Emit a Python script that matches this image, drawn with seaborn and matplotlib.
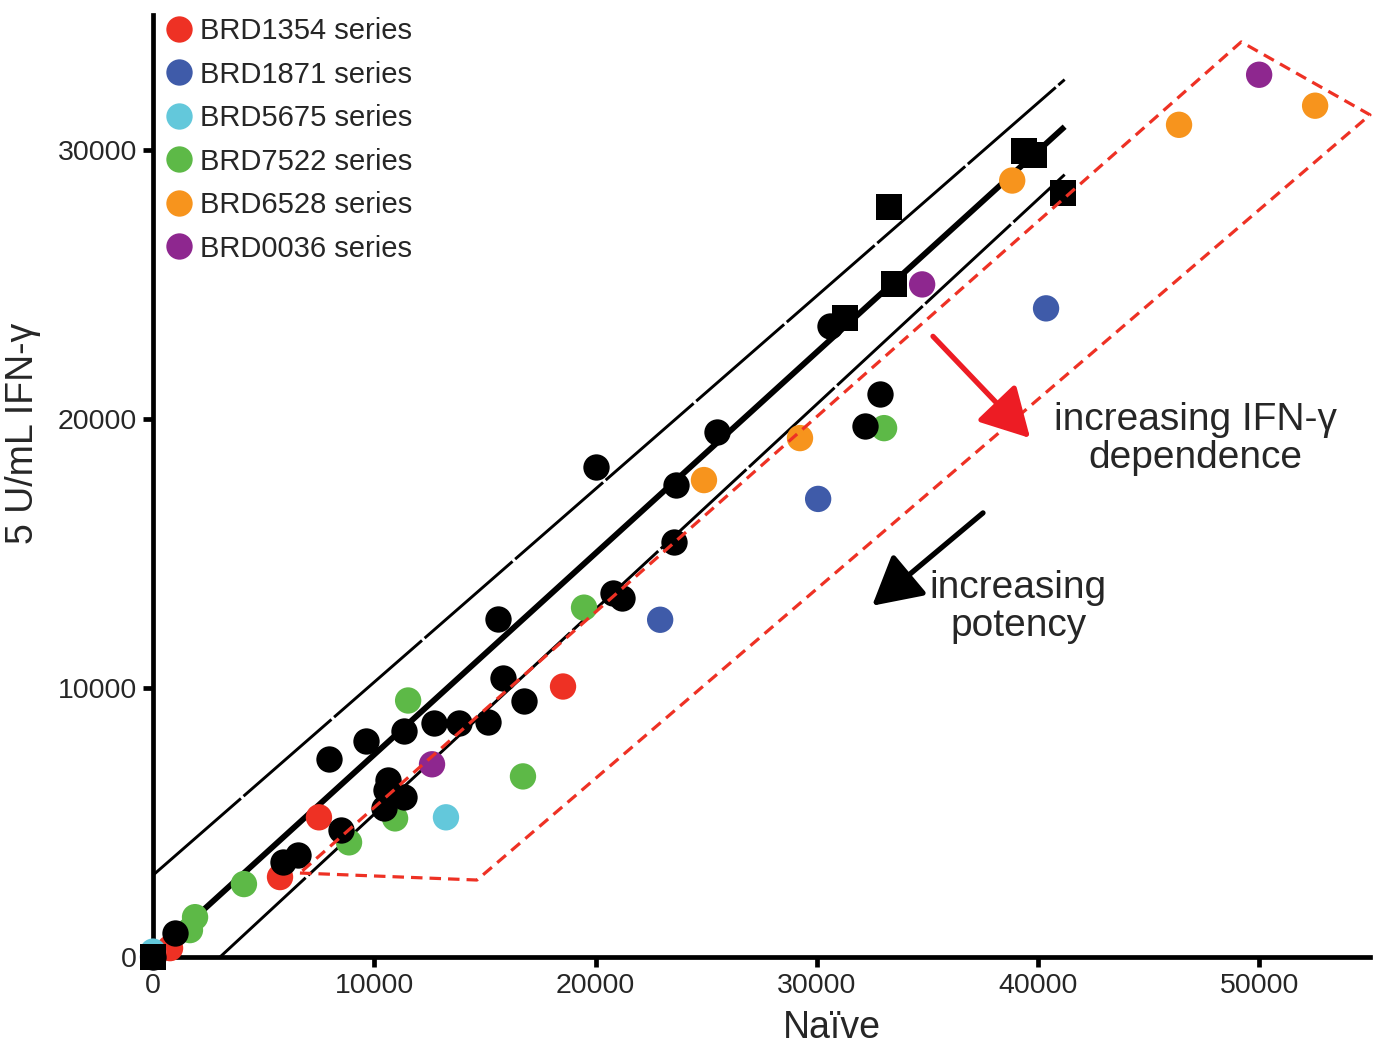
import numpy as np
import pandas as pd
import matplotlib
matplotlib.use("Agg")
import matplotlib.pyplot as plt
import seaborn as sns

sns.set_style("white")
plt.rcParams['font.family'] = ['Liberation Sans', 'DejaVu Sans']

# black compounds (circles)
black_x = [0, 990, 5880, 6550, 8500, 10440, 10530, 10620, 11350, 7950, 9630, 11350,
           12700, 13830, 15140, 15820, 16770, 15590, 20020, 20790, 21200, 23550,
           23640, 25490, 30600, 32180, 32860]
black_y = [0, 890, 3520, 3780, 4710, 5530, 6190, 6560, 5930, 7340, 8010, 8380,
           8680, 8680, 8750, 10350, 9530, 12570, 18200, 13530, 13350, 15430,
           17540, 19500, 23430, 19730, 20910]

# reference compounds (squares)
square_x = [0, 31280, 33270, 33490, 39350, 39800, 41130]
square_y = [0, 23730, 27850, 24990, 29950, 29800, 28400]

series_names = ["BRD1354 series", "BRD1871 series", "BRD5675 series",
                "BRD7522 series", "BRD6528 series", "BRD0036 series"]
series_colors = ["#EE3124", "#3F5BA9", "#63C8DB", "#5DB947", "#F7941D", "#8E278F"]

brd1354_x = [770, 5740, 7500, 18530]
brd1354_y = [330, 2970, 5190, 10050]
brd1871_x = [0, 22920, 30060, 40360]
brd1871_y = [0, 12530, 17020, 24100]
brd5675_x = [0, 13240]
brd5675_y = [200, 5190]
brd7522_x = [1900, 1670, 4110, 8860, 10940, 11530, 16720, 19480, 33040]
brd7522_y = [1480, 1000, 2710, 4260, 5150, 9530, 6710, 12980, 19650]
brd6528_x = [24900, 29240, 38830, 46370, 52520]
brd6528_y = [17720, 19280, 28850, 30920, 31630]
brd0036_x = [12610, 34760, 49990]
brd0036_y = [7160, 24990, 32780]

# fit line and prediction band end points
fit_x = [540, 41200]
fit_y = [450, 30850]
upper_x = [0, 41200]
upper_y = [3040, 32600]
lower_x = [3030, 41200]
lower_y = [0, 29070]

# highlighted region (red dashed outline)
region_x = [6640, 14640, 55000, 49180, 6640]
region_y = [3120, 2860, 31290, 34000, 3120]

frames = []
for name, xs, ys in zip(series_names,
                        [brd1354_x, brd1871_x, brd5675_x, brd7522_x, brd6528_x, brd0036_x],
                        [brd1354_y, brd1871_y, brd5675_y, brd7522_y, brd6528_y, brd0036_y]):
    frames.append(pd.DataFrame({"naive": xs, "ifn": ys, "series": name}))
colored = pd.concat(frames, ignore_index=True)
black = pd.DataFrame({"naive": black_x, "ifn": black_y})
squares = pd.DataFrame({"naive": square_x, "ifn": square_y})

fig = plt.figure(figsize=(13.73, 10.52), dpi=100)
ax = fig.add_axes([153 / 1373, 1 - 957 / 1052, 1217 / 1373, 942 / 1052])

ax.plot(fit_x, fit_y, color="black", lw=4.2, solid_capstyle="butt", zorder=2)
ax.plot(upper_x, upper_y, color="black", lw=2.1, linestyle=(0, (40, 1.2)), zorder=2)
ax.plot(lower_x, lower_y, color="black", lw=2.1, linestyle=(0, (40, 1.2)), zorder=2)

sns.scatterplot(data=colored, x="naive", y="ifn", hue="series",
                hue_order=series_names, palette=dict(zip(series_names, series_colors)),
                s=360, linewidth=0, marker="o", ax=ax, zorder=3, clip_on=False)
sns.scatterplot(data=black, x="naive", y="ifn", color="black", s=360, linewidth=0,
                marker="o", ax=ax, zorder=4, legend=False, clip_on=False)
sns.scatterplot(data=squares, x="naive", y="ifn", color="black", s=330, linewidth=0,
                marker="s", ax=ax, zorder=5, legend=False, clip_on=False)

ax.plot(region_x, region_y, color="#EE3124", lw=2.3, linestyle=(0, (3.6, 2.2)),
        zorder=6, clip_on=False)

# arrows
ax.annotate("", xy=(39640, 19280), xytext=(35250, 23060),
            arrowprops=dict(arrowstyle="-|>,head_length=1.0,head_width=0.55",
                            color="#ED1C24", lw=3.8, mutation_scale=30,
                            shrinkA=0, shrinkB=0), zorder=7)
ax.annotate("", xy=(32500, 13050), xytext=(37510, 16500),
            arrowprops=dict(arrowstyle="-|>,head_length=1.0,head_width=0.55",
                            color="black", lw=3.8, mutation_scale=30,
                            shrinkA=0, shrinkB=0), zorder=7)
ax.text(47100, 19240, "increasing IFN-γ\ndependence", fontsize=28, ha="center",
        va="center", linespacing=1.05)
ax.text(39100, 13010, "increasing\npotency", fontsize=28, ha="center",
        va="center", linespacing=1.05)

ax.set_xlim(0, 55000)
ax.set_ylim(0, 35000)
ax.set_xticks([0, 10000, 20000, 30000, 40000, 50000])
ax.set_yticks([0, 10000, 20000, 30000])
ax.tick_params(axis="both", direction="out", length=7.5, width=3.4, labelsize=20.5,
               pad=4, bottom=True, left=True, color="black")
for side in ["top", "right"]:
    ax.spines[side].set_visible(False)
for side in ["left", "bottom"]:
    ax.spines[side].set_linewidth(3.4)
    ax.spines[side].set_color("black")

ax.set_xlabel("Naïve", fontsize=27)
ax.set_ylabel("5 U/mL IFN-γ", fontsize=27)
ax.xaxis.set_label_coords(0.558, -0.056)
ax.yaxis.set_label_coords(-0.092, 0.556)

leg = ax.legend(loc="upper left", bbox_to_anchor=(-0.012, 1.01), frameon=False,
                fontsize=21, handletextpad=-0.3, labelspacing=0.53,
                borderaxespad=0, markerscale=1.0)

fig.savefig("out.png", dpi=100, facecolor="white")
